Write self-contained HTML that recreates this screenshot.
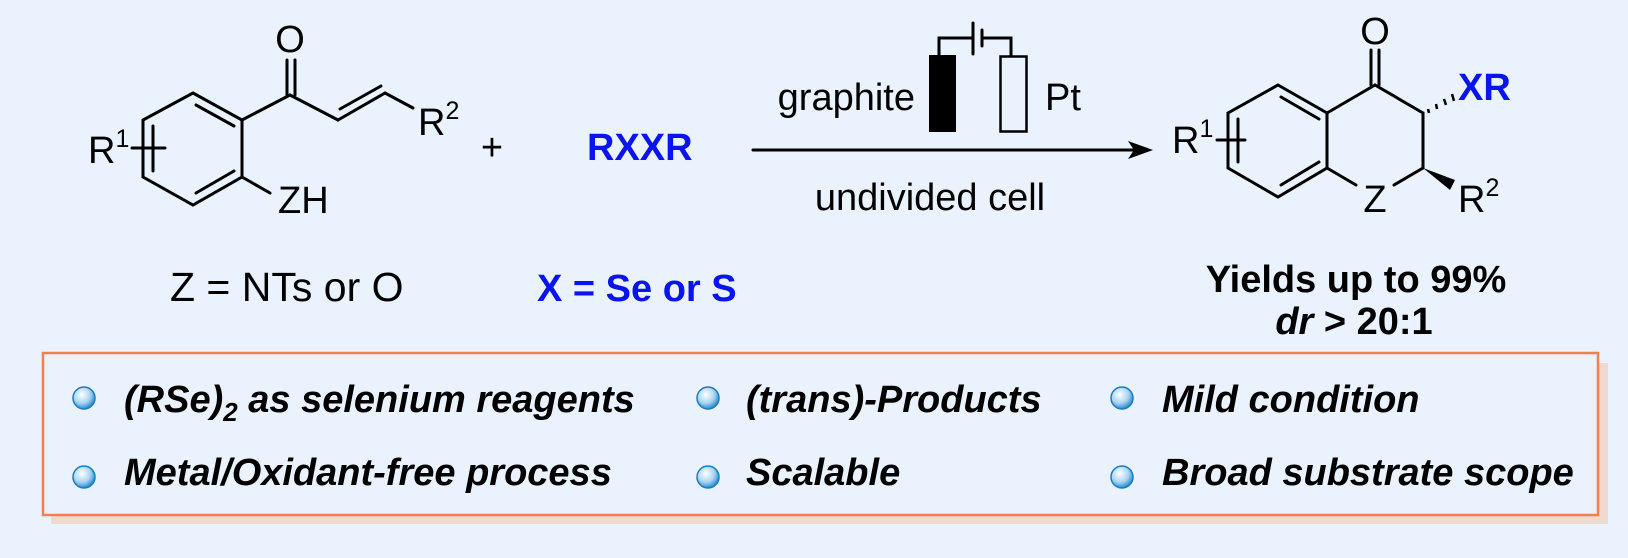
<!DOCTYPE html>
<html><head><style>
html,body{margin:0;padding:0;background:#eaf2fd;}
svg{display:block;}
text{font-family:"Liberation Sans",sans-serif;}
</style></head><body>
<svg width="1628" height="558" viewBox="0 0 1628 558" xmlns="http://www.w3.org/2000/svg">
<defs>
<radialGradient id="bg" cx="0.4" cy="0.35" r="0.65">
<stop offset="0" stop-color="#ffffff"/><stop offset="0.6" stop-color="#a8d4f0"/><stop offset="1" stop-color="#2a8ccc"/>
</radialGradient>
</defs>
<rect width="1628" height="558" fill="#eaf2fd"/>
<g stroke="#000" stroke-width="3" fill="none" stroke-linecap="round">
<polygon points="193,93 242,120 242,177 193,205 143,177 143,120"/>
<line x1="196" y1="105" x2="234" y2="126"/>
<line x1="234" y1="171" x2="196" y2="193"/>
<line x1="153" y1="126" x2="153" y2="171"/>
<line x1="242" y1="120" x2="290" y2="95"/>
<line x1="287" y1="95" x2="287" y2="60"/><line x1="295" y1="95" x2="295" y2="60"/>
<line x1="290" y1="95" x2="338" y2="120"/>
<line x1="338" y1="120" x2="385" y2="93"/>
<line x1="340" y1="109" x2="381" y2="86"/>
<line x1="385" y1="93" x2="413" y2="108"/>
<line x1="242" y1="177" x2="270" y2="193"/>
<line x1="132" y1="148" x2="165" y2="148"/>
<line x1="753" y1="150" x2="1140" y2="150"/>
<polygon points="1278,85 1327,113 1327,168 1278,197 1228,168 1228,113"/>
<line x1="1281" y1="97" x2="1319" y2="119"/>
<line x1="1319" y1="162" x2="1281" y2="185"/>
<line x1="1238" y1="119" x2="1238" y2="162"/>
<line x1="1327" y1="113" x2="1375" y2="85"/>
<line x1="1375" y1="85" x2="1423" y2="113"/>
<line x1="1423" y1="113" x2="1423" y2="168"/>
<line x1="1371" y1="85" x2="1371" y2="50"/><line x1="1379" y1="85" x2="1379" y2="50"/>
<line x1="1327" y1="168" x2="1356" y2="185"/>
<line x1="1394" y1="185" x2="1423" y2="168"/>
<line x1="1217" y1="140" x2="1245" y2="140"/>
<polyline points="939,55 939,38 973,38"/>
<polyline points="982,38 1011,38 1011,56"/>
<line x1="973" y1="23" x2="973" y2="54"/>
<line x1="982" y1="30" x2="982" y2="46"/>
</g>
<polygon points="1153,150 1128,141 1134,150 1128,159" fill="#000"/>
<polygon points="1423,168 1455,180 1450,190" fill="#000"/>
<g stroke="#000" stroke-width="2.5">
<line x1="1428" y1="109" x2="1429" y2="113"/>
<line x1="1436" y1="104" x2="1437" y2="109"/>
<line x1="1444" y1="99" x2="1446" y2="105"/>
<line x1="1452" y1="94" x2="1454" y2="101"/>
</g>
<rect x="929" y="55" width="27" height="77" fill="#000"/>
<rect x="1000.5" y="56.5" width="26" height="75" fill="none" stroke="#000" stroke-width="2.5"/>
<g font-size="38" fill="#000">
<text x="290" y="52" text-anchor="middle">O</text>
<text x="418" y="135">R<tspan font-size="25" dy="-16">2</tspan></text>
<text x="88" y="163">R<tspan font-size="25" dy="-16">1</tspan></text>
<text x="278" y="213">ZH</text>
<text x="492" y="160" text-anchor="middle">+</text>
<text x="915" y="110" text-anchor="end">graphite</text>
<text x="1045" y="110">Pt</text>
<text x="930" y="210" text-anchor="middle">undivided cell</text>
<text x="1375" y="44" text-anchor="middle">O</text>
<text x="1172" y="153">R<tspan font-size="25" dy="-16">1</tspan></text>
<text x="1375" y="212" text-anchor="middle">Z</text>
<text x="1458" y="212">R<tspan font-size="25" dy="-16">2</tspan></text>
<text x="170" y="301" font-size="41">Z = NTs or O</text>
</g>
<g font-size="38" font-weight="bold" fill="#0a14f0">
<text x="587" y="160">RXXR</text>
<text x="537" y="301">X = Se or S</text>
<text x="1458" y="100">XR</text>
</g>
<g font-size="38" font-weight="bold" fill="#000" text-anchor="middle">
<text x="1356" y="292">Yields up to 99%</text>
<text x="1354" y="334"><tspan font-style="italic">dr</tspan> &gt; 20:1</text>
</g>
<rect x="51" y="363" width="1557" height="161" fill="#f0d9d0"/>
<rect x="43" y="353" width="1555" height="162" fill="#eaf2fd" stroke="#f08050" stroke-width="2.5"/>
<g fill="url(#bg)" stroke="#1a7cc0" stroke-width="1.5">
<circle cx="84" cy="398" r="11"/><circle cx="84" cy="477" r="11"/>
<circle cx="708" cy="398" r="11"/><circle cx="708" cy="477" r="11"/>
<circle cx="1122" cy="398" r="11"/><circle cx="1122" cy="477" r="11"/>
</g>
<g font-size="38" font-weight="bold" font-style="italic" fill="#000">
<text x="124" y="412">(RSe)<tspan font-size="26" dy="9">2</tspan><tspan dy="-9"> as selenium reagents</tspan></text>
<text x="124" y="485">Metal/Oxidant-free process</text>
<text x="746" y="412">(trans)-Products</text>
<text x="746" y="485">Scalable</text>
<text x="1162" y="412">Mild condition</text>
<text x="1162" y="485">Broad substrate scope</text>
</g>
</svg>
</body></html>
